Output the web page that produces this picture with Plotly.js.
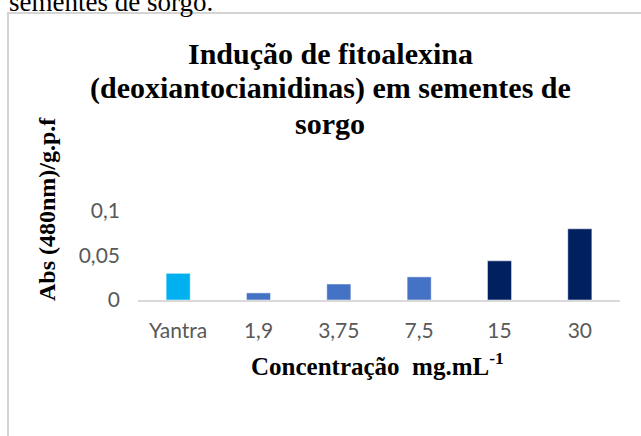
<!DOCTYPE html>
<html>
<head>
<meta charset="utf-8">
<script src="https://cdn.plot.ly/plotly-3.0.1.min.js"></script>
<style>html,body{margin:0;padding:0;background:#fff;overflow:hidden}#chart{width:641px;height:436px}</style>
</head>
<body>
<div id="chart"></div>
<script>
var categories = ["Yantra", "1,9", "3,75", "7,5", "15", "30"];
var values = [0.030, 0.008, 0.018, 0.026, 0.044, 0.080];
var barColors = ["#00B0F0", "#4472C4", "#4472C4", "#4472C4", "#002060", "#002060"];
var yTickVals = [0, 0.05, 0.1];
var yTickText = ["0", "0,05", "0,1"];
var titleLines = ["Indução de fitoalexina", "(deoxiantocianidinas) em sementes de", "sorgo"];
var xTitle = "Concentração  mg.mL<sup>-1</sup>";
var yTitle = "Abs (480nm)/g.p.f";
var captionText = "sementes de sorgo.";

// geometry (pixels)
var W = 641, H = 436;
var mL = 138, mR = 21, mT = 211, mB = 136;
var plotW = W - mL - mR, plotH = H - mT - mB;
function px(x) { return (x - mL) / plotW; }
function py(y) { return (H - mB - y) / plotH; }

var trace = {
  type: "bar",
  x: categories,
  y: values,
  marker: {color: barColors, line: {color: "rgba(255,255,255,0.5)", width: 1}},
  width: 0.3,
  hoverinfo: "none"
};

var serifBold = {family: "Liberation Serif", color: "#000", weight: "bold"};
var titleY = [53, 88, 123];
var annotations = titleLines.map(function (t, i) {
  return {
    text: t, xref: "paper", yref: "paper",
    x: px(330), xanchor: "center", y: py(titleY[i]), yanchor: "middle",
    showarrow: false,
    font: Object.assign({size: 30}, serifBold)
  };
});
annotations.push({
  text: xTitle, xref: "paper", yref: "paper",
  x: px(377), xanchor: "center", y: py(364), yanchor: "middle",
  showarrow: false, font: Object.assign({size: 25}, serifBold)
});
annotations.push({
  text: yTitle, xref: "paper", yref: "paper",
  x: px(47), xanchor: "center", y: py(209), yanchor: "middle",
  textangle: -90, showarrow: false, font: Object.assign({size: 24}, serifBold)
});
annotations.push({
  text: captionText, xref: "paper", yref: "paper",
  x: px(7), xanchor: "left", y: py(1.5), yanchor: "middle",
  showarrow: false, font: {family: "Liberation Serif", size: 27, color: "#000"}
});

var layout = {
  width: W, height: H,
  margin: {l: mL, r: mR, t: mT, b: mB},
  paper_bgcolor: "#fff", plot_bgcolor: "#fff",
  showlegend: false,
  xaxis: {
    type: "category",
    showline: true, linecolor: "#D9D9D9", linewidth: 2,
    ticks: "", showgrid: false, zeroline: false,
    tickfont: {family: "Lato", size: 21, color: "#595959"},
    ticklabelstandoff: 11
  },
  yaxis: {
    range: [0, 0.1],
    tickvals: yTickVals, ticktext: yTickText,
    showline: false, showgrid: false, zeroline: false, ticks: "",
    tickfont: {family: "Lato", size: 21, color: "#595959"},
    ticklabelstandoff: 17
  },
  shapes: [{
    type: "rect", xref: "paper", yref: "paper",
    x0: px(8), x1: px(660), y0: py(460), y1: py(13),
    line: {color: "#D4D4D4", width: 2}, fillcolor: "rgba(0,0,0,0)", layer: "below"
  }],
  annotations: annotations
};

Plotly.newPlot("chart", [trace], layout, {displayModeBar: false, staticPlot: true});
</script>
</body>
</html>
